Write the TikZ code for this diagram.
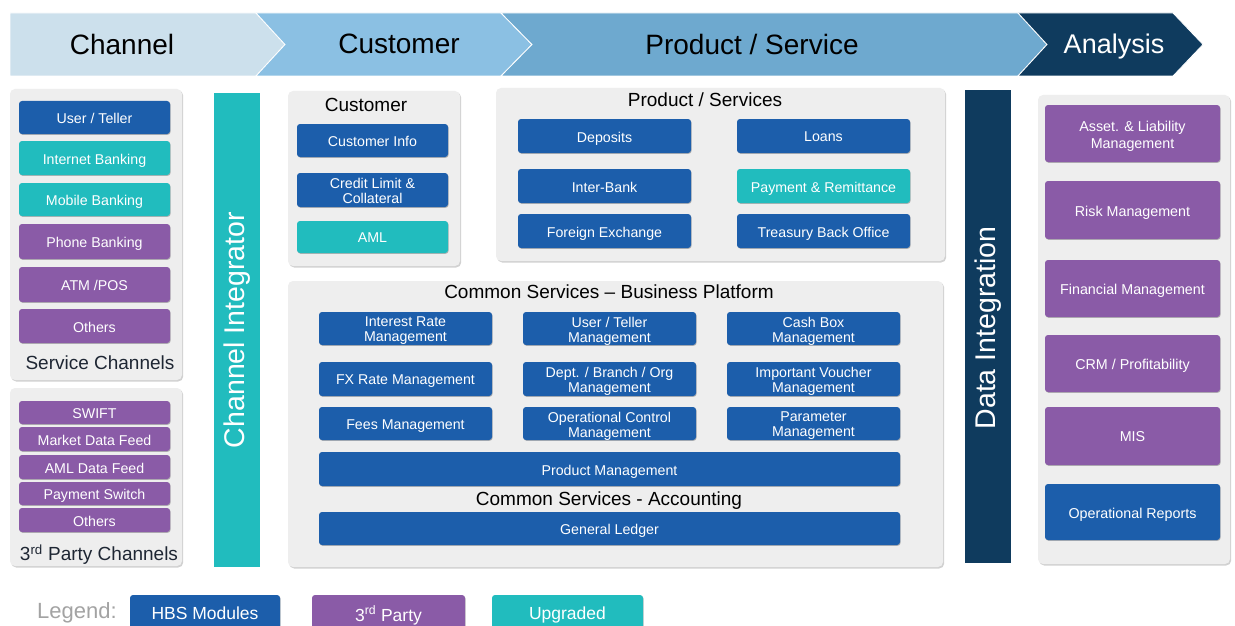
\documentclass[tikz,border=0pt]{standalone}
\usepackage{fontspec}
\setmainfont{Liberation Sans}
\usetikzlibrary{shadows}
\definecolor{hbs}{HTML}{1C5EAB}
\definecolor{upg}{HTML}{21BCBE}
\definecolor{tpp}{HTML}{8A5BA7}
\definecolor{navy}{HTML}{0F3B5E}
\definecolor{bchan}{HTML}{CCE0EC}
\definecolor{bcust}{HTML}{8BC0E3}
\definecolor{bprod}{HTML}{6EA9CF}
\definecolor{panelgray}{HTML}{EEEEEE}
\definecolor{ttl}{HTML}{1E2633}
\definecolor{leg}{HTML}{A3A3A3}
\tikzset{
  btn/.style={rectangle, rounded corners=3pt, inner sep=0pt,
    drop shadow={shadow xshift=0.6pt, shadow yshift=-0.8pt, opacity=0.25, fill=black}},
  btntext/.style={text=white, align=center, inner sep=0pt, text depth=0pt,
    font=\fontsize{14.2}{15}\selectfont},
  panel/.style={rectangle, fill=panelgray, rounded corners=5pt, inner sep=0pt,
    drop shadow={shadow xshift=1.2pt, shadow yshift=-1.5pt, opacity=0.18, fill=black}},
  bar/.style={rectangle, inner sep=0pt, text=white, font=\fontsize{28.5}{30}\selectfont},
  ptitle/.style={text=black, font=\fontsize{19}{21}\selectfont, inner sep=0pt, text depth=0pt},
  ctitle/.style={text=ttl, font=\fontsize{19}{21}\selectfont, inner sep=0pt, text depth=0pt},
  bantext/.style={font=\fontsize{28}{30}\selectfont, inner sep=0pt, text depth=0pt},
  chev/.style={draw=white, line width=0.8pt},
}
\newcommand\mybtn[7]{%
  \pgfmathsetmacro\bx{(#3+#5)/2}\pgfmathsetmacro\by{(#4+#6)/2}%
  \pgfmathsetmacro\byt{(#4+#6)/2+1}%
  \pgfmathsetmacro\bw{#5-#3}\pgfmathsetmacro\bh{#6-#4}%
  \node[btn, fill=#2, minimum width=\bw pt, minimum height=\bh pt] (#1) at (\bx,\by) {};
  \node[btntext] (#1-t) at (\bx,\byt) {#7};}
\begin{document}
\begin{tikzpicture}[x=1pt,y=-1pt]
\useasboundingbox (0,0) rectangle (1235,626);
\clip (0,0) rectangle (1235,626);
\fill[white] (0,0) rectangle (1235,626);
% banner
\path[chev, fill=bchan] (10,13) -- (256,13) -- (285,44.5) -- (256,76) -- (10,76) -- cycle;
\path[chev, fill=bcust] (256,13) -- (501,13) -- (532,44.5) -- (501,76) -- (256,76) -- (285,44.5) -- cycle;
\path[chev, fill=bprod] (501,13) -- (1018,13) -- (1047,44.5) -- (1018,76) -- (501,76) -- (532,44.5) -- cycle;
\path[chev, fill=navy] (1018,13) -- (1173,13) -- (1203,44.5) -- (1173,76) -- (1018,76) -- (1047,44.5) -- cycle;
\node[bantext] (tchan) at (122,44) {Channel};
\node[bantext] (tcust) at (399,44) {Customer};
\node[bantext] (tprod) at (752,44) {Product / Service};
\node[bantext, text=white, font=\fontsize{27}{29}\selectfont] (tana) at (1114,44) {Analysis};
% panels
\node[panel, minimum width=172pt, minimum height=291pt] (sc) at (96,234.5) {};
\node[panel, minimum width=172pt, minimum height=178pt] (tp) at (96,477) {};
\node[panel, minimum width=172pt, minimum height=175pt] (cust) at (374,178.5) {};
\node[panel, minimum width=449pt, minimum height=173pt] (prod) at (720.5,174.5) {};
\node[panel, minimum width=655pt, minimum height=286pt] (cs) at (615.5,424) {};
\node[panel, minimum width=192pt, minimum height=469pt] (an) at (1134,329.5) {};
\node[bar, fill=upg, minimum width=46pt, minimum height=474pt] (ci) at (237,330) {};
\node[bar, rotate=90] (citext) at (237,330) {Channel Integrator};
\node[bar, fill=navy, minimum width=46pt, minimum height=473pt] (di) at (988,326.5) {};
\node[bar, rotate=90] (ditext) at (988,328) {Data Integration};
% service channels
\mybtn{ut}{hbs}{19}{101}{170}{134}{User / Teller}
\mybtn{ib}{upg}{19}{141}{170}{175}{Internet Banking}
\mybtn{mb}{upg}{19}{183}{170}{216}{Mobile Banking}
\mybtn{pb}{tpp}{19}{224}{170}{259}{Phone Banking}
\mybtn{atm}{tpp}{19}{267}{170}{302}{ATM /POS}
\mybtn{oth}{tpp}{19}{309}{170}{343}{Others}
\node[ctitle] (sctitle) at (100,363) {Service Channels};
% 3rd party channels
\mybtn{swift}{tpp}{19}{401}{170}{424}{SWIFT}
\mybtn{mdf}{tpp}{19}{427}{170}{451}{Market Data Feed}
\mybtn{adf}{tpp}{19}{455}{170}{479}{AML Data Feed}
\mybtn{ps}{tpp}{19}{482}{170}{505}{Payment Switch}
\mybtn{oth2}{tpp}{19}{508}{170}{532}{Others}
\node[ctitle] (tptitle) at (99,553) {3\textsuperscript{rd} Party Channels};
% customer
\node[ptitle] (custtitle) at (366,105) {Customer};
\mybtn{ci1}{hbs}{297}{124}{448}{157}{Customer Info}
\mybtn{ci2}{hbs}{297}{173}{448}{207}{Credit Limit \&\\Collateral}
\mybtn{ci3}{upg}{297}{221}{448}{253}{AML}
% product / services
\node[ptitle] (prodtitle) at (705,100) {Product / Services};
\mybtn{dep}{hbs}{518}{119}{691}{153}{Deposits}
\mybtn{loan}{hbs}{737}{119}{910}{153}{Loans}
\mybtn{ibk}{hbs}{518}{169}{691}{203}{Inter-Bank}
\mybtn{pr}{upg}{737}{169}{910}{203}{Payment \& Remittance}
\mybtn{fx}{hbs}{518}{214}{691}{248}{Foreign Exchange}
\mybtn{tbo}{hbs}{737}{214}{910}{248}{Treasury Back Office}
% common services
\node[ptitle] (cstitle) at (609,292) {Common Services -- Business Platform};
\mybtn{irm}{hbs}{319}{312}{492}{345}{Interest Rate\\Management}
\mybtn{utm}{hbs}{523}{312}{696}{345}{User / Teller\\Management}
\mybtn{cbm}{hbs}{727}{312}{900}{345}{Cash Box\\Management}
\mybtn{fxr}{hbs}{319}{362}{492}{396}{FX Rate Management}
\mybtn{dbo}{hbs}{523}{362}{696}{396}{Dept. / Branch / Org\\Management}
\mybtn{ivm}{hbs}{727}{362}{900}{396}{Important Voucher\\Management}
\mybtn{fee}{hbs}{319}{407}{492}{440}{Fees Management}
\mybtn{occ}{hbs}{523}{407}{696}{440}{Operational Control\\Management}
\mybtn{par}{hbs}{727}{407}{900}{440}{Parameter\\Management}
\mybtn{pm}{hbs}{319}{452}{900}{486}{Product Management}
\node[ptitle] (acctitle) at (609,499) {Common Services - Accounting};
\mybtn{gl}{hbs}{319}{512}{900}{545}{General Ledger}
% analysis
\tikzset{btntext/.append style={font=\fontsize{14.3}{17}\selectfont}}
\mybtn{alm}{tpp}{1045}{105}{1220}{162}{Asset. \& Liability\\Management}
\mybtn{risk}{tpp}{1045}{181}{1220}{239}{Risk Management}
\mybtn{fin}{tpp}{1045}{260}{1220}{317}{Financial Management}
\mybtn{crm}{tpp}{1045}{335}{1220}{392}{CRM / Profitability}
\mybtn{mis}{tpp}{1045}{407}{1220}{465}{MIS}
\mybtn{opr}{hbs}{1045}{484}{1220}{540}{Operational Reports}
% legend
\node[text=leg, font=\fontsize{22}{24}\selectfont, inner sep=0pt, text depth=0pt] (legend) at (77,611) {Legend:};
\tikzset{btntext/.append style={font=\fontsize{17.5}{19}\selectfont}}
\mybtn{lhbs}{hbs}{130}{595}{280}{630}{HBS Modules}
\mybtn{ltp}{tpp}{312}{595}{465}{630}{3\textsuperscript{rd} Party}
\mybtn{lupg}{upg}{492}{595}{643}{630}{Upgraded}
\end{tikzpicture}
\end{document}
